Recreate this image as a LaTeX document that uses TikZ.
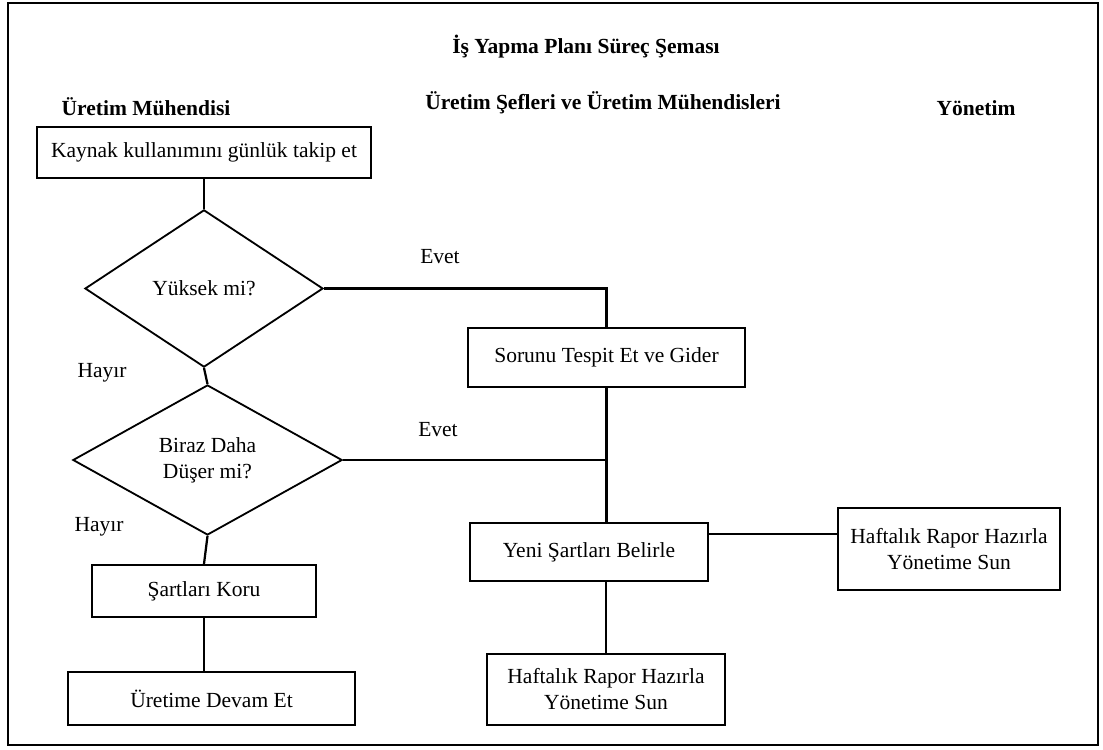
\documentclass[tikz,border=0pt]{standalone}
\usepackage{fontspec}
\setmainfont{Liberation Serif}
\usetikzlibrary{shapes.geometric}

\begin{document}
\begin{tikzpicture}[
		x=0.025cm, y=-0.025cm,
		every node/.style={font=\fontsize{15.3pt}{18.5pt}\selectfont},
		box/.style={draw, line width=1.6pt, rectangle, align=center, inner sep=2pt},
		decision/.style={draw, line width=1.3pt, diamond, align=center, inner sep=0pt},
		lane/.style={font=\fontsize{15.3pt}{18.5pt}\selectfont\bfseries},
		link/.style={line width=1.6pt}
	]
	\useasboundingbox (0,0) rectangle (1103,749);
	\draw[line width=1.8pt] (8,3) rectangle (1098,745);

	% headings
	\node[lane] (title) at (586,47) {İş Yapma Planı Süreç Şeması};
	\node[lane] (muh) at (146,107) {Üretim Mühendisi};
	\node[lane] (sef) at (603,103) {Üretim Şefleri ve Üretim Mühendisleri};
	\node[lane] (yon) at (976,108) {Yönetim};

	% left lane
	\node[box, minimum width=8.33cm, minimum height=1.28cm] (kaynak) at (204,152.5) {Kaynak kullanımını günlük takip et};
	\node[decision, minimum width=5.95cm, minimum height=3.93cm] (yuksek) at (204,288.5) {Yüksek mi?};
	\node[decision, minimum width=6.73cm, minimum height=3.75cm] (duser) at (207.5,460) {Biraz Daha\\Düşer mi?};
	\node[box, minimum width=5.6cm, minimum height=1.3cm] (sartlar) at (204,591) {Şartları Koru};
	\node[box, minimum width=7.18cm, minimum height=1.33cm] (devam) at (211.5,698.5) {Üretime Devam Et};

	% middle and right lanes
	\node[box, minimum width=6.93cm, minimum height=1.48cm] (sorun) at (606.5,357.5) {Sorunu Tespit Et ve Gider};
	\node[box, minimum width=5.95cm, minimum height=1.45cm] (yeni) at (589,552) {Yeni Şartları Belirle};
	\node[box, minimum width=5.95cm, minimum height=1.78cm] (rapor) at (606,689.5) {Haftalık Rapor Hazırla\\Yönetime Sun};
	\node[box, minimum width=5.55cm, minimum height=2.05cm] (raporyon) at (949,549) {Haftalık Rapor Hazırla\\Yönetime Sun};

	% answers
	\node (evet1) at (440,257) {Evet};
	\node (evet2) at (438,430) {Evet};
	\node (hayir1) at (102,373) {Hayır};
	\node (hayir2) at (99,527) {Hayır};

	\coordinate (yenitop) at (sorun.south |- yeni.north);
	\coordinate (yenisag) at ([yshift=0.45cm]yeni.east);

	% connectors
	\draw[link] (kaynak.south) -- (yuksek.north);
	\draw[link] (yuksek.south) -- (duser.north);
	\draw[link] (yuksek.east) -| (sorun.north);
	\draw[link] (sorun.south) -- (yenitop);
	\draw[link] (duser.east) -| (yenitop);
	\draw[link] (yenisag) -- (yenisag -| raporyon.west);
	\draw[link] (rapor.north |- yeni.south) -- (rapor.north);
	\draw[link] (duser.south) -- (sartlar.north);
	\draw[link] (sartlar.south) -- (sartlar.south |- devam.north);
\end{tikzpicture}
\end{document}
